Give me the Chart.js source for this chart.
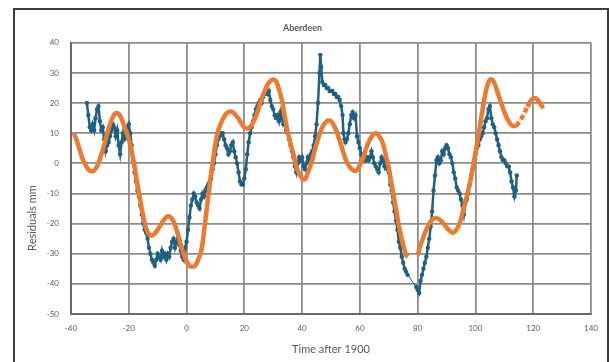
<!DOCTYPE html>
<html>
<head>
<meta charset="utf-8">
<script src="https://cdn.jsdelivr.net/npm/chart.js@4.4.1/dist/chart.umd.min.js"></script>
<style>
  html, body { margin: 0; padding: 0; background: #fff; }
  canvas { display: block; }
</style>
</head>
<body>
<canvas id="residuals" width="610" height="362"></canvas>
<script>
// measured residuals (blue trace)
const blueYears = [
  -34.5, -34, -33.5, -33, -32.5, -32, -31.5, -31, -30.5, -30, -29.5, -29, -28.5, -28, -27.5, -27, -26.5, -26, -25.5, -25,
  -24.5, -24, -23.5, -23, -22.5, -22, -21.5, -21, -20.5, -20, -19.5, -19, -18.5, -18, -17.5, -17, -16.5, -16, -15.5, -15,
  -14.5, -14, -13.5, -13, -12.5, -12, -11.5, -11, -10.5, -10, -9.5, -9, -8.5, -8, -7.5, -7, -6.5, -6, -5.5, -5,
  -4.5, -4, -3.5, -3, -2.5, -2, -1.5, -1, -0.5, 0, 0.5, 1, 1.5, 2, 2.5, 3, 3.5, 4, 4.5, 5,
  5.5, 6, 6.5, 7, 7.5, 8, 8.5, 9, 9.5, 10, 10.5, 11, 11.5, 12, 12.5, 13, 13.5, 14, 14.5, 15,
  15.5, 16, 16.5, 17, 17.5, 18, 18.5, 19, 19.5, 20, 20.5, 21, 21.5, 22, 22.5, 23, 23.5, 24, 24.5, 25,
  25.5, 26, 26.5, 27, 27.5, 28, 28.5, 29, 29.5, 30, 30.5, 31, 31.5, 32, 32.5, 33, 33.5, 34, 34.5, 35,
  35.5, 36, 36.5, 37, 37.5, 38, 38.5, 39, 39.5, 40, 40.5, 41, 41.5, 42, 42.5, 43, 43.5, 44, 44.5, 45,
  45.5, 46, 46.3, 46.6, 47, 47.5, 48, 48.5, 49, 49.5, 50, 50.5, 51, 51.5, 52, 52.5, 53, 53.5, 54, 54.3,
  54.7, 55, 55.5, 56, 56.5, 57, 57.5, 58, 58.5, 59, 59.5, 60, 60.5, 61, 61.5, 62, 62.5, 63, 63.5, 64,
  64.5, 65, 65.5, 66, 66.5, 67, 67.5, 68, 68.5, 69, 69.5, 70, 70.5, 71, 71.5, 72, 72.5, 73, 73.5, 74,
  74.5, 75, 75.5, 76, 76.5, 79.5, 80, 80.5, 81, 81.5, 82, 82.5, 83, 83.5, 84, 84.5, 85, 85.5, 86, 86.5,
  87, 87.5, 88, 88.5, 89, 89.5, 90, 90.5, 91, 91.5, 92, 92.5, 93, 93.5, 94, 94.5, 95, 95.5, 96, 96.5,
  97, 97.5, 98, 98.5, 99, 99.5, 100, 100.5, 101, 101.5, 102, 102.5, 103, 103.5, 104, 104.5, 105, 105.5, 106, 106.5,
  107, 107.5, 108, 108.5, 109, 109.5, 110, 110.5, 111, 111.5, 112, 112.5, 113, 113.5, 114, 114.3
];
const blueMm = [
  20, 16, 12, 11, 13, 11, 15, 18, 19, 14, 11, 12, 8, 4, 6, 7, 9, 11, 13, 12,
  9, 11, 6, 3, 7, 10, 8, 9, 12, 13, 10, 6, 1, -3, -6, -9, -11, -14, -17, -20,
  -22, -23, -25, -28, -30, -32, -33, -34, -32, -30, -31, -32, -29, -31, -30, -32, -30, -31, -28, -26,
  -25, -28, -26, -25, -27, -29, -31, -32, -28, -26, -22, -18, -14, -12, -10, -11, -13, -14, -15, -12,
  -10, -11, -9, -8, -7, -6, -5, -2, 0, 3, 6, 8, 9, 10, 10, 8, 6, 5, 3, 4,
  6, 7, 4, 2, 0, -3, -6, -7, -7, -5, -2, 3, 7, 10, 12, 14, 16, 18, 19, 20,
  21, 20, 22, 23, 24, 23, 24, 21, 19, 18, 16, 15, 16, 14, 17, 15, 13, 14, 11, 10,
  8, 6, 4, 2, -1, -3, 0, 2, 1, 2, -1, -2, 0, 2, 1, 3, 4, 6, 9, 13,
  20, 30, 36, 32, 27, 26, 26, 25, 25, 24, 24, 24, 23, 23, 22, 22, 21, 19, 16, 10,
  8, 7, 8, 10, 13, 16, 17, 15, 16, 9, 7, 5, 3, 2, 1, 1, 2, 1, 2, 4,
  2, 0, -1, -2, -3, 0, 2, 1, -1, 1, -2, -3, -7, -9, -13, -16, -19, -22, -26, -28,
  -31, -33, -35, -36, -37, -41, -42, -43, -39, -37, -35, -33, -31, -28, -25, -21, -16, -9, -4, 1,
  2, 0, 1, 4, 3, 5, 6, 5, 3, 2, 0, -3, -5, -8, -9, -10, -12, -14, -17, -13,
  -12, -10, -7, -4, -2, 1, 3, 5, 6, 8, 9, 10, 12, 14, 15, 18, 19, 15, 13, 12,
  10, 8, 6, 4, 2, 1, 1, 0, -1, -1, -3, -6, -8, -11, -9, -4
];

// fitted curve (orange), null marks the break near 1977-79
const fitYears = [
  -39, -38, -37, -36, -35, -34, -33, -32, -31, -30, -29, -28, -27, -26, -25, -24, -23, -22, -21, -20,
  -19, -18, -17, -16, -15, -14, -13, -12, -11, -10, -9, -8, -7, -6, -5, -4, -3, -2, -1, 0,
  1, 2, 3, 4, 5, 6, 7, 8, 9, 10, 11, 12, 13, 14, 15, 16, 17, 18, 19, 20,
  21, 22, 23, 24, 25, 26, 27, 28, 29, 30, 31, 32, 33, 34, 35, 36, 37, 38, 39, 40,
  41, 42, 43, 44, 45, 46, 47, 48, 49, 50, 51, 52, 53, 54, 55, 56, 57, 58, 59, 60,
  61, 62, 63, 64, 65, 66, 67, 68, 69, 70, 71, 72, 73, 74, 75, 76, 76.7, 78, 80, 81,
  82, 83, 84, 85, 86, 87, 88, 89, 90, 91, 92, 93, 94, 95, 96, 97, 98, 99, 100, 101,
  102, 103, 104, 105, 106, 107, 108, 109, 110, 111, 112, 113, 114, 115, 116, 117, 118, 119, 120, 121,
  122, 123, 123.5
];
const fitMm = [
  10, 7.5, 4.5, 1.5, -0.5, -2, -2.6, -2.4, -1, 1.5, 4.5, 8, 11.5, 14.3, 16.2, 16.7, 15.8, 13.5, 10.8, 8,
  4, -1, -7, -12.5, -17.5, -21.5, -23.5, -24, -23.3, -22, -20.5, -19, -17.8, -17.6, -18.5, -20.5, -23.5, -27, -30, -32.5,
  -34, -34.3, -34, -32, -29.5, -23, -15, -7, 0, 6.5, 11, 13.5, 15.5, 16.7, 17.2, 17, 16, 14.8, 13.2, 12,
  11.6, 12, 13.5, 15.6, 18.5, 21.5, 24, 26, 27.3, 27.8, 27.3, 24.5, 21, 15.5, 10.5, 6.5, 3, -1, -3.5, -5,
  -5.3, -3, -0.5, 3, 6.5, 9.5, 12, 13.5, 14.2, 14, 12.5, 10.5, 7.5, 4.5, 1.5, -0.5, -1.8, -2.5, -2.3, -0.5,
  1.5, 4.5, 7, 8.8, 9.8, 9.8, 8.5, 6.5, 2.5, -1.5, -7, -12.5, -18, -23, -27, -30.5, -31, null, -30.5, -27,
  -24.5, -22, -20, -18.8, -18.2, -18.3, -19, -20, -21.3, -22.3, -23, -22.5, -21, -18.5, -14.5, -11, -7, -2, 3.5, 9,
  15, 21, 25.5, 27.8, 27.6, 25.5, 22.5, 19.8, 17, 14.8, 13.2, 12.4, 12.5, 13.5, 15, 16.8, 18.8, 20.5, 21.6, 21.5,
  20.5, 19, 18.3
];

const xTicks = { min: -40, max: 140, step: 20 };
const yTicks = { min: -50, max: 40, step: 10 };

const textGrey = '#595959';
const fontFamily = 'Lato, "Open Sans", sans-serif';

// frame around the whole chart + rotated y title
const chartFrame = {
  id: 'chartFrame',
  afterDraw(chart) {
    const ctx = chart.ctx;
    ctx.save();
    ctx.strokeStyle = '#3c3c3c';
    ctx.lineWidth = 2;
    ctx.strokeRect(14, 9, 594, 400);
    ctx.translate(32, 218);
    ctx.rotate(-Math.PI / 2);
    ctx.fillStyle = textGrey;
    ctx.font = '11px ' + fontFamily;
    ctx.textAlign = 'center';
    ctx.textBaseline = 'middle';
    ctx.fillText('Residuals mm', 0, 0);
    ctx.restore();
  }
};

new Chart(document.getElementById('residuals'), {
  type: 'scatter',
  data: {
    datasets: [
      {
        label: 'Fit',
        data: fitYears.map((x, i) => ({ x: x, y: fitMm[i] })),
        showLine: true,
        borderColor: '#ec7a30',
        borderWidth: 4.5,
        pointRadius: 0,
        tension: 0.35,
        spanGaps: false,
        order: 0,
        segment: {
          borderDash: ctx => (ctx.p0.parsed.x >= 114 && ctx.p1.parsed.x <= 118) ? [5, 3] : undefined
        }
      },
      {
        label: 'Residuals',
        data: blueYears.map((x, i) => ({ x: x, y: blueMm[i] })),
        showLine: true,
        borderColor: '#1f5f80',
        backgroundColor: '#1f5f80',
        borderWidth: 2.5,
        pointRadius: 2.2,
        pointBorderWidth: 0,
        tension: 0,
        order: 1,
        // missing months show as a thin joining line
        segment: {
          borderWidth: ctx => (ctx.p1.parsed.x - ctx.p0.parsed.x > 2) ? 1 : undefined
        }
      }
    ]
  },
  options: {
    responsive: false,
    animation: false,
    layout: { padding: { left: 14, top: 9, right: 19, bottom: 0 } },
    plugins: {
      legend: { display: false },
      tooltip: { enabled: false },
      title: {
        display: true,
        text: 'Aberdeen',
        color: textGrey,
        font: { family: fontFamily, size: 9, weight: 'bold' },
        padding: { top: 14, bottom: 9 }
      }
    },
    scales: {
      x: {
        type: 'linear',
        min: xTicks.min,
        max: xTicks.max,
        afterFit: scale => { scale.height = 48; },
        ticks: {
          stepSize: xTicks.step,
          color: textGrey,
          padding: 10,
          font: { family: fontFamily, size: 8 }
        },
        grid: { color: '#8c8c8c', lineWidth: 1.8, drawTicks: false },
        border: { color: '#6a6a6a', width: 2 },
        title: {
          display: true,
          text: 'Time after 1900',
          color: textGrey,
          font: { family: fontFamily, size: 11 },
          padding: { top: 0, bottom: 6 }
        }
      },
      y: {
        type: 'linear',
        min: yTicks.min,
        max: yTicks.max,
        afterFit: scale => { scale.width = 57; },
        ticks: {
          stepSize: yTicks.step,
          color: textGrey,
          padding: 12,
          font: { family: fontFamily, size: 8 }
        },
        grid: { color: '#8c8c8c', lineWidth: 1.8, drawTicks: false },
        border: { color: '#6a6a6a', width: 2 }
      }
    }
  },
  plugins: [chartFrame]
});
</script>
</body>
</html>
